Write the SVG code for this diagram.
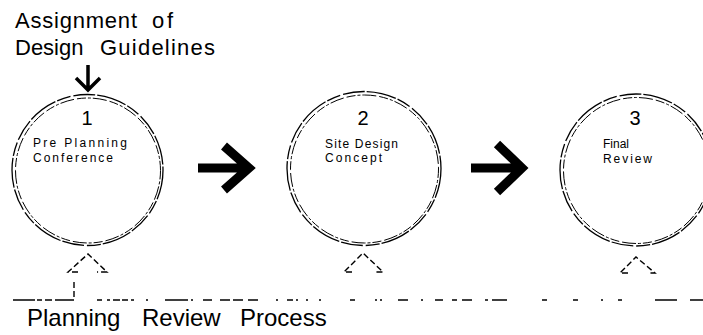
<svg xmlns="http://www.w3.org/2000/svg" width="703" height="335" viewBox="0 0 703 335">
<style>
text{font-family:"Liberation Sans",Arial,sans-serif;fill:#000}
.title{font-size:22px}
.num{font-size:20px;text-anchor:middle}
.lbl{font-size:12px}
.foot{font-size:24px}
.outer{fill:none;stroke:#000;stroke-width:1.3;stroke-dasharray:30 2 14 3 22 2}
.inner{fill:none;stroke:#000;stroke-width:1;stroke-dasharray:9 2 3 2 14 3}
.big{fill:none;stroke:#000;stroke-width:9;stroke-linejoin:miter}
.thin{fill:none;stroke:#000;stroke-width:3.5;stroke-linejoin:miter}
.hollow{fill:none;stroke:#000;stroke-width:1.4;stroke-dasharray:6 3}
.base{fill:none;stroke:#000;stroke-width:1.6}
</style>
<rect width="703" height="335" fill="#fff"/>
<g id="title">
<text class="title" x="15" y="28" textLength="122">Assignment</text>
<text class="title" x="152" y="28" textLength="21">of</text>
<text class="title" x="15" y="55">Design</text>
<text class="title" x="100" y="55" textLength="115">Guidelines</text>
</g>
<g id="node1">
<circle class="outer" cx="87.5" cy="170" r="75.5"/>
<circle class="inner" cx="88" cy="170.5" r="72.5"/>
<text class="num" x="87" y="125">1</text>
<text class="lbl" x="33" y="147" textLength="94">Pre Planning</text>
<text class="lbl" x="33" y="162" textLength="80">Conference</text>
</g>
<g id="node2">
<circle class="outer" cx="364" cy="168.5" r="77"/>
<circle class="inner" cx="364.5" cy="169" r="74"/>
<text class="num" x="363" y="125">2</text>
<text class="lbl" x="325" y="148" textLength="73">Site Design</text>
<text class="lbl" x="325" y="162" textLength="57">Concept</text>
</g>
<g id="node3">
<circle class="outer" cx="636" cy="170" r="76"/>
<circle class="inner" cx="636.5" cy="170.5" r="73"/>
<text class="num" x="635" y="125">3</text>
<text class="lbl" x="603" y="148">Final</text>
<text class="lbl" x="603" y="163" textLength="49">Review</text>
</g>
<g id="process">
<text class="foot" x="27" y="326">Planning</text>
<text class="foot" x="142" y="326">Review</text>
<text class="foot" x="240" y="326">Process</text>
</g>
<g id="connectors">
<path class="thin" d="M88,65 V89 M76,78 L88,90 L100,78"/>
<path class="big" d="M198,168 H245 M224,146 L249,168 L224,190"/>
<path class="big" d="M471,168 H518 M497,144 L522,168 L497,192"/>
<path class="hollow" d="M78,272 H68 L88,254 L107,272 H97"/>
<path class="hollow" d="M352,272 H344 L363,253 L383,272 H375"/>
<path class="hollow" d="M628,273 H620 L636,257 L655,273 H648"/>
<path class="hollow" d="M74,282 V300"/>
<path class="base" d="M13,300 H35 M37,300 H42 M45,300 H52 M55,300 H74 M97,300 H102 M107,300 H110 M113,300 H120 M122,300 H128 M131,300 H134 M146,300 H148 M165,300 H188 M191,300 H193 M203,300 H212 M220,300 H230 M233,300 H243 M248,300 H258 M276,300 H278 M287,300 H293 M296,300 H298 M306,300 H308 M319,300 H321 M350,300 H355 M375,300 H377 M380,300 H382 M398,300 H408 M421,300 H423 M435,300 H443 M452,300 H457 M462,300 H472 M485,300 H488 M492,300 H507 M542,300 H547 M573,300 H578 M601,300 H603 M618,300 H622 M655,300 H677 M690,300 H703"/>
</g>
</svg>
